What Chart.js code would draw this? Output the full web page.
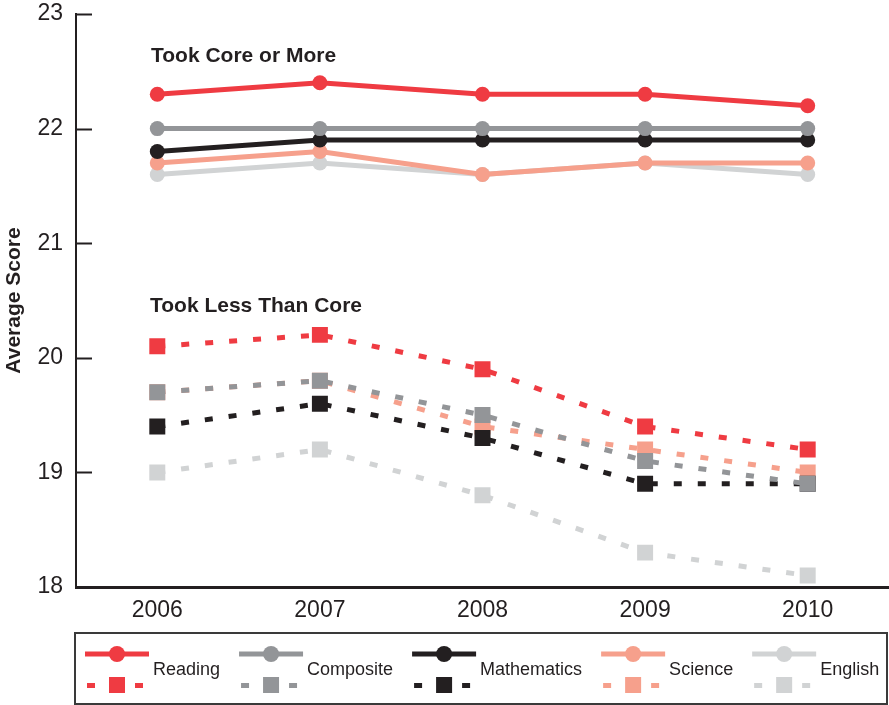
<!DOCTYPE html>
<html>
<head>
<meta charset="utf-8">
<script src="https://cdn.jsdelivr.net/npm/chart.js@4.4.1/dist/chart.umd.min.js"></script>
<style>
    html, body { margin: 0; padding: 0; background: #fff; }
    #wrap { width: 889px; height: 705px; }
</style>
</head>
<body>
<div id="wrap"><canvas id="scoreChart" width="889" height="705"></canvas></div>
<script>
const years = ['2006', '2007', '2008', '2009', '2010'];
const subjects = ['Reading', 'Composite', 'Mathematics', 'Science', 'English'];

// Took Core or More
const coreReading = [22.3, 22.4, 22.3, 22.3, 22.2];
const coreComposite = [22.0, 22.0, 22.0, 22.0, 22.0];
const coreMath = [21.8, 21.9, 21.9, 21.9, 21.9];
const coreScience = [21.7, 21.8, 21.6, 21.7, 21.7];
const coreEnglish = [21.6, 21.7, 21.6, 21.7, 21.6];

// Took Less Than Core
const lessReading = [20.1, 20.2, 19.9, 19.4, 19.2];
const lessComposite = [19.7, 19.8, 19.5, 19.1, 18.9];
const lessMath = [19.4, 19.6, 19.3, 18.9, 18.9];
const lessScience = [19.7, 19.8, 19.4, 19.2, 19.0];
const lessEnglish = [19.0, 19.2, 18.8, 18.3, 18.1];

const yTicks = [18, 19, 20, 21, 22, 23];

const colors = ['#ef3b42', '#939598', '#231f20', '#f6a08c', '#d1d3d4'];
const ink = '#231f20';
const fontFamily = '"Liberation Sans", Arial, Helvetica, sans-serif';

const coreSeries = [coreReading, coreComposite, coreMath, coreScience, coreEnglish];
const lessSeries = [lessReading, lessComposite, lessMath, lessScience, lessEnglish];

const datasets = [];
subjects.forEach((name, i) => {
    datasets.push({
        label: name,
        data: coreSeries[i],
        borderColor: colors[i],
        backgroundColor: colors[i],
        borderWidth: 5,
        pointStyle: 'circle',
        pointRadius: 7.5,
        pointBorderWidth: 0,
        pointBackgroundColor: colors[i],
        tension: 0,
        order: i
    });
});
subjects.forEach((name, i) => {
    datasets.push({
        label: name + ' (less)',
        data: lessSeries[i],
        borderColor: colors[i],
        backgroundColor: colors[i],
        borderWidth: 5,
        borderDash: [8, 16],
        borderCapStyle: 'butt',
        pointStyle: 'rect',
        pointRadius: 11.3,
        pointBorderWidth: 0,
        pointBackgroundColor: colors[i],
        tension: 0,
        order: i
    });
});

// tick marks point into the plot
const innerTicks = {
    id: 'innerTicks',
    afterDatasetsDraw(chart) {
        const { ctx, chartArea, scales } = chart;
        ctx.save();
        ctx.strokeStyle = ink;
        ctx.lineWidth = 2;
        yTicks.forEach(v => {
            const y = Math.round(scales.y.getPixelForValue(v)) + 0.5;
            ctx.beginPath();
            ctx.moveTo(chartArea.left, y);
            ctx.lineTo(chartArea.left + 16, y);
            ctx.stroke();
        });
        ctx.restore();
    }
};

const groupLabels = {
    id: 'groupLabels',
    afterDraw(chart) {
        const { ctx } = chart;
        ctx.save();
        ctx.fillStyle = ink;
        ctx.font = 'bold 21px ' + fontFamily;
        ctx.textBaseline = 'middle';
        ctx.textAlign = 'left';
        ctx.fillText('Took Core or More', 151, 56);
        ctx.fillText('Took Less Than Core', 150, 306);
        ctx.restore();
    }
};

const boxLegend = {
    id: 'boxLegend',
    afterDraw(chart) {
        const { ctx } = chart;
        ctx.save();
        ctx.strokeStyle = '#3a3a3a';
        ctx.lineWidth = 2;
        ctx.strokeRect(75, 633, 812, 71);

        ctx.font = '18px ' + fontFamily;
        ctx.textBaseline = 'middle';
        ctx.textAlign = 'left';
        let x = 85;
        subjects.forEach((name, i) => {
            const c = colors[i];
            const cx = x + 32;
            ctx.fillStyle = c;
            ctx.fillRect(x, 651.5, 64, 5);
            ctx.beginPath();
            ctx.arc(cx, 654, 8, 0, Math.PI * 2);
            ctx.fill();
            ctx.fillRect(x + 2, 683, 8, 5);
            ctx.fillRect(x + 50, 683, 8, 5);
            ctx.fillRect(cx - 8, 677, 16, 16);
            ctx.fillStyle = ink;
            const tx = x + 68;
            ctx.fillText(name, tx, 670);
            x = tx + ctx.measureText(name).width + 19;
        });
        ctx.restore();
    }
};

const ctx = document.getElementById('scoreChart').getContext('2d');
new Chart(ctx, {
    type: 'line',
    data: { labels: years, datasets: datasets },
    options: {
        responsive: false,
        animation: false,
        layout: { autoPadding: false, padding: { top: 14, right: 0, bottom: 78, left: 0 } },
        plugins: {
            legend: { display: false },
            tooltip: { enabled: false }
        },
        scales: {
            x: {
                type: 'category',
                offset: true,
                grid: { display: false, drawTicks: false },
                border: { display: true, color: ink, width: 3 },
                ticks: {
                    color: ink,
                    font: { family: fontFamily, size: 23 },
                    padding: 10,
                    maxRotation: 0
                },
                afterFit(scale) {
                    scale.height = 40;
                    scale.paddingLeft = 0;
                    scale.paddingRight = 0;
                }
            },
            y: {
                min: 18,
                max: 23,
                afterBuildTicks(scale) { scale.ticks = yTicks.map(v => ({ value: v })); },
                grid: { display: false, drawTicks: false },
                border: { display: true, color: ink, width: 2 },
                ticks: {
                    color: ink,
                    font: { family: fontFamily, size: 23 },
                    padding: 13
                },
                title: {
                    display: true,
                    text: 'Average Score',
                    color: ink,
                    font: { family: fontFamily, size: 21, weight: 'bold' },
                    padding: { top: 2, bottom: 0 }
                },
                afterFit(scale) {
                    scale.width = 76;
                    scale.paddingTop = 0;
                    scale.paddingBottom = 0;
                }
            }
        }
    },
    plugins: [innerTicks, groupLabels, boxLegend]
});
</script>
</body>
</html>
